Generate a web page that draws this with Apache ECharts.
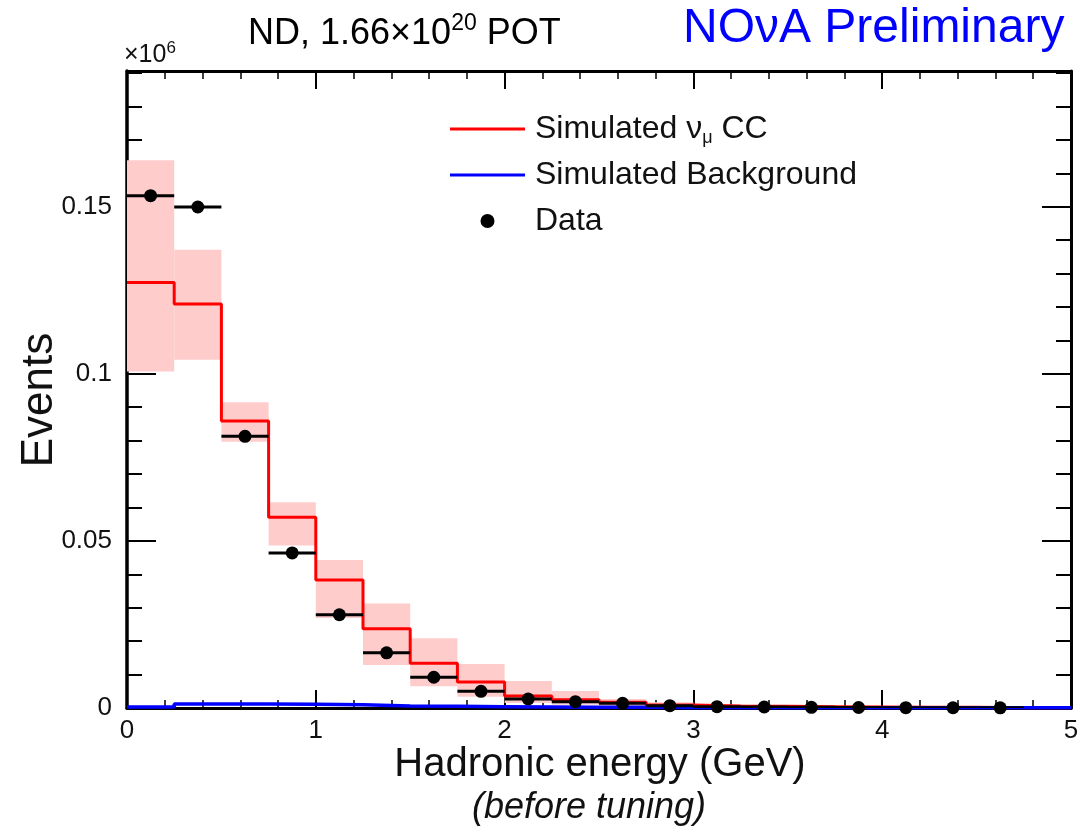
<!DOCTYPE html>
<html>
<head>
<meta charset="utf-8">
<script src="https://cdn.jsdelivr.net/npm/echarts@6/dist/echarts.min.js"></script>
<style>
  html, body { margin: 0; padding: 0; background: #ffffff; }
  #chart { width: 1085px; height: 835px; }
</style>
</head>
<body>
<div id="chart"></div>
<script>
// Hadronic energy bins (GeV)
const binLow  = [0, 0.25, 0.5, 0.75, 1, 1.25, 1.5, 1.75, 2, 2.25, 2.5, 2.75, 3, 3.25, 3.5, 3.75, 4, 4.25, 4.5, 4.75];
const binHigh = [0.25, 0.5, 0.75, 1, 1.25, 1.5, 1.75, 2, 2.25, 2.5, 2.75, 3, 3.25, 3.5, 3.75, 4, 4.25, 4.5, 4.75, 5];

// Simulated numu CC prediction (x10^6 events)
const simNumuCC = [0.1273, 0.1209, 0.0859, 0.0571, 0.0383, 0.0237, 0.0134, 0.0078, 0.0036, 0.0025,
                   0.0017, 0.0009, 0.0006, 0.0005, 0.0004, 0.0003, 0.0002, 0.0002, 0.0001, 0.0001];
// Systematic uncertainty band around the prediction
const simBandUp   = [0.1639, 0.1371, 0.0915, 0.0616, 0.0443, 0.0313, 0.0209, 0.0132, 0.0081, 0.0051,
                     0.0027, 0.0017, 0.0010, 0.0008, 0.0006, 0.0005, 0.0003, 0.0003, 0.0002, 0.0002];
const simBandDown = [0.1007, 0.1042, 0.0797, 0.0486, 0.0269, 0.0129, 0.0065, 0.0034, 0.0015, 0.0010,
                     0.0006, 0.0003, 0.0002, 0.0002, 0.0001, 0.0001, 0.0001, 0.0001, 0.0000, 0.0000];
// Simulated background
const simBackground = [0.0003, 0.0012, 0.0012, 0.0011, 0.0010, 0.0006, 0.0005, 0.0004, 0.0003, 0.0002,
                       0.0002, 0.0001, 0.0001, 0.0001, 0.0001, 0.0001, 0.0001, 0.0001, 0.0001, 0.0001];

// ND data
const dataCenter = [0.125, 0.375, 0.625, 0.875, 1.125, 1.375, 1.625, 1.875, 2.125, 2.375,
                    2.625, 2.875, 3.125, 3.375, 3.625, 3.875, 4.125, 4.375, 4.625];
const dataEvents = [0.1533, 0.1499, 0.0813, 0.0464, 0.0279, 0.0165, 0.0092, 0.0050, 0.0027, 0.0019,
                    0.0014, 0.0007, 0.0004, 0.0003, 0.0002, 0.00015, 0.0001, 0.00008, 0.00005];

const FONT = '"Liberation Sans", Arial, Helvetica, sans-serif';
const Y_MAX = 0.1906;
const LINE_ICON = 'path://M0,0L75,0L75,3L0,3Z';

function stepPoints(values) {
  const pts = [];
  values.forEach((v, i) => { pts.push([binLow[i], v]); pts.push([binHigh[i], v]); });
  return pts;
}

const bandData = binLow.map((lo, i) => [lo, binHigh[i], simBandDown[i], simBandUp[i]]);
const errData = dataCenter.map((c, i) => [binLow[i], binHigh[i], dataEvents[i]]);
const pointData = dataCenter.map((c, i) => [c, dataEvents[i]]);

const chart = echarts.init(document.getElementById('chart'), null, { renderer: 'canvas' });

function xAxisDef(pos, showLabel) {
  return {
    type: 'value', position: pos, min: 0, max: 5, interval: 1,
    axisLine: { show: true, onZero: false, lineStyle: { color: '#000', width: 3 } },
    axisTick: { show: true, inside: true, length: 18, lineStyle: { color: '#000', width: 2 } },
    minorTick: { show: true, splitNumber: 5, length: 8, lineStyle: { color: '#000', width: 1.5 } },
    splitLine: { show: false }, minorSplitLine: { show: false },
    axisLabel: { show: showLabel, fontFamily: FONT, fontSize: 26, color: '#111', margin: 10 }
  };
}
function yAxisDef(pos, interval, tickLen, showLabel, showLine) {
  return {
    type: 'value', position: pos, min: 0, max: Y_MAX, interval: interval,
    axisLine: { show: showLine, onZero: false, lineStyle: { color: '#000', width: pos === 'left' ? 3.5 : 3 } },
    axisTick: { show: true, inside: true, length: tickLen, lineStyle: { color: '#000', width: 2 } },
    splitLine: { show: false },
    axisLabel: { show: showLabel, showMaxLabel: false, fontFamily: FONT, fontSize: 26, color: '#111', margin: 15 }
  };
}

chart.setOption({
  animation: false,
  backgroundColor: '#ffffff',
  grid: { left: 127, right: 14, top: 71, bottom: 127, containLabel: false },
  xAxis: [xAxisDef('bottom', true), xAxisDef('top', false)],
  yAxis: [
    yAxisDef('left', 0.05, 29, true, true),
    yAxisDef('left', 0.01, 15, false, false),
    yAxisDef('right', 0.05, 29, false, true),
    yAxisDef('right', 0.01, 15, false, false)
  ],
  legend: {
    orient: 'vertical', left: 445, top: 106,
    itemWidth: 75, itemHeight: 14, itemGap: 10,
    data: [
      { name: 'Simulated νμ CC', icon: LINE_ICON },
      { name: 'Simulated Background', icon: LINE_ICON },
      { name: 'Data', icon: 'circle' }
    ],
    textStyle: {
      fontFamily: FONT, fontSize: 32, color: '#111', lineHeight: 36, padding: [0, 0, 0, 5],
      rich: {
        t: { fontFamily: FONT, fontSize: 32, color: '#111', lineHeight: 36 },
        s: { fontFamily: FONT, fontSize: 18, color: '#111', lineHeight: 36, verticalAlign: 'bottom', padding: [14, 0, 0, 0] }
      }
    },
    formatter: function (name) {
      if (name === 'Simulated νμ CC') return '{t|Simulated ν}{s|μ}{t| CC}';
      return '{t|' + name + '}';
    }
  },
  graphic: [
    {
      type: 'text', left: 248, top: 12,
      style: {
        text: '{m|ND, 1.66×10}{p|20}{m| POT}',
        rich: {
          m: { fontFamily: FONT, fontSize: 36, fill: '#000', lineHeight: 44 },
          p: { fontFamily: FONT, fontSize: 23, fill: '#000', lineHeight: 24, verticalAlign: 'top' }
        }
      }
    },
    {
      type: 'text', left: 683, top: 5,
      style: { text: 'NOνA Preliminary', fontFamily: FONT, fontSize: 48, fill: '#0000ff' }
    },
    {
      type: 'text', left: 124, top: 40,
      style: {
        text: '{m|×10}{p|6}',
        rich: {
          m: { fontFamily: FONT, fontSize: 25, fill: '#111', lineHeight: 30 },
          p: { fontFamily: FONT, fontSize: 17, fill: '#111', lineHeight: 18, verticalAlign: 'top' }
        }
      }
    },
    {
      type: 'text', x: 40, y: 400, rotation: Math.PI / 2,
      style: { text: 'Events', fontFamily: FONT, fontSize: 44, fill: '#111', align: 'center', verticalAlign: 'middle' }
    },
    {
      type: 'text', x: 600, y: 765,
      style: { text: 'Hadronic energy (GeV)', fontFamily: FONT, fontSize: 40, fill: '#111', align: 'center', verticalAlign: 'middle' }
    },
    {
      type: 'text', x: 589, y: 808,
      style: { text: '(before tuning)', fontFamily: FONT, fontSize: 36, fontStyle: 'italic', fill: '#111', align: 'center', verticalAlign: 'middle' }
    }
  ],
  series: [
    {
      name: 'Uncertainty', type: 'custom', z: 1, clip: true,
      data: bandData,
      encode: { x: [0, 1], y: [2, 3] },
      renderItem: function (params, api) {
        const p0 = api.coord([api.value(0), api.value(3)]);
        const p1 = api.coord([api.value(1), api.value(2)]);
        return { type: 'rect', shape: { x: p0[0], y: p0[1], width: p1[0] - p0[0], height: p1[1] - p0[1] },
                 style: { fill: '#ffcccc' } };
      }
    },
    {
      name: 'Simulated νμ CC', type: 'line', z: 2, data: stepPoints(simNumuCC),
      symbol: 'none', showSymbol: false, lineStyle: { color: '#ff0000', width: 3 }, itemStyle: { color: '#ff0000' }
    },
    {
      name: 'Simulated Background', type: 'line', z: 3, data: stepPoints(simBackground),
      symbol: 'none', showSymbol: false, lineStyle: { color: '#0000ff', width: 3.5 }, itemStyle: { color: '#0000ff' }
    },
    {
      name: 'Data bins', type: 'custom', z: 4, clip: true,
      data: errData,
      encode: { x: [0, 1], y: 2 },
      renderItem: function (params, api) {
        const a = api.coord([api.value(0), api.value(2)]);
        const b = api.coord([api.value(1), api.value(2)]);
        return { type: 'line', shape: { x1: a[0], y1: a[1], x2: b[0], y2: b[1] },
                 style: { stroke: '#000', lineWidth: 3 } };
      }
    },
    {
      name: 'Data', type: 'scatter', z: 5, data: pointData,
      symbol: 'circle', symbolSize: 13, itemStyle: { color: '#000', opacity: 1 }
    }
  ]
});
</script>
</body>
</html>
